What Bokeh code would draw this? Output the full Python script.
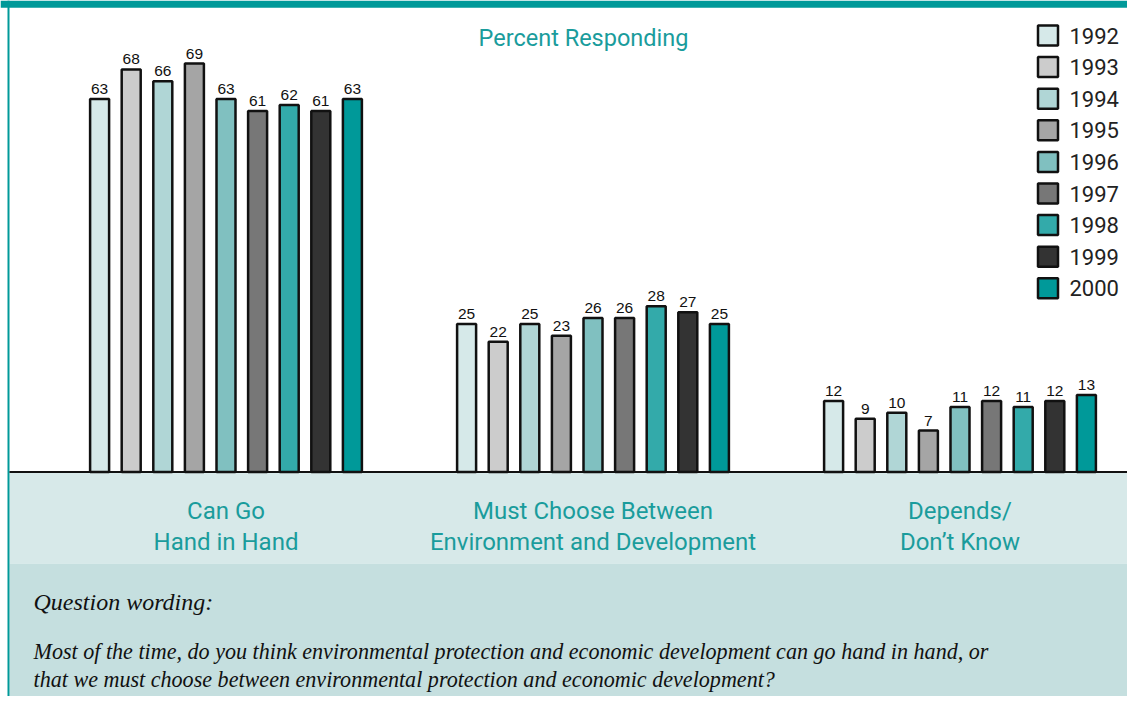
from bokeh.plotting import figure
from bokeh.models import Range1d
from bokeh.core.properties import value
from bokeh.embed import file_html
from bokeh.resources import INLINE

# ---------------- data ----------------
categories = ["Can Go\nHand in Hand",
              "Must Choose Between\nEnvironment and Development",
              "Depends/\nDon\u2019t Know"]
years = ["1992", "1993", "1994", "1995", "1996", "1997", "1998", "1999", "2000"]
y1992 = [63, 25, 12]
y1993 = [68, 22, 9]
y1994 = [66, 25, 10]
y1995 = [69, 23, 7]
y1996 = [63, 26, 11]
y1997 = [61, 26, 12]
y1998 = [62, 28, 11]
y1999 = [61, 27, 12]
y2000 = [63, 25, 13]
series = [y1992, y1993, y1994, y1995, y1996, y1997, y1998, y1999, y2000]
colors = ["#d6e9e9", "#cccccc", "#b0d6d6", "#a5a5a5", "#80c0c0",
          "#777777", "#33aaaa", "#333333", "#009999"]
title_text = "Percent Responding"
question_head = "Question wording:"
question_lines = [
    "Most of the time, do you think environmental protection and economic development can go hand in hand, or",
    "that we must choose between environmental protection and economic development?",
]

# ---------------- layout ----------------
W, H = 1127, 696
PXG = 367.0        # pixels per group
PXP = 5.92         # pixels per percent
BASE_Y = 471.5     # baseline, px from top
G0_X = 225.5       # first group centre, px from left
BAR_STEP = 31.6
BAR_W = 19.0
LABEL_GAP = 10.0   # px between bar top and label baseline
TEAL = "#009999"
TEXT_TEAL = "#1a9c9c"

def fx(px):
    return (px - G0_X) / PXG

def fy(py):
    return (BASE_Y - py) / PXP

p = figure(width=W, height=H, output_backend="svg", toolbar_location=None,
           x_range=Range1d(fx(0), fx(W)), y_range=Range1d(fy(H), fy(0)),
           min_border=0, outline_line_color=None, background_fill_color="white",
           border_fill_color="white")
p.axis.visible = False
p.grid.visible = False

# bands
p.quad(left=fx(9), right=fx(W), top=fy(BASE_Y), bottom=fy(563),
       fill_color="#d7e9e9", line_color=None)
p.quad(left=fx(9), right=fx(W), top=fy(563), bottom=fy(H),
       fill_color="#c5dfdf", line_color=None)
# frame lines
p.quad(left=fx(0), right=fx(W), top=fy(0), bottom=fy(7.3), fill_color=TEAL, line_color=None)
p.quad(left=fx(7), right=fx(9), top=fy(0), bottom=fy(H), fill_color=TEAL, line_color=None)

# bars
n = len(years)
for i, (yr, vals, col) in enumerate(zip(years, series, colors)):
    xs = [g + (i - (n - 1) / 2) * BAR_STEP / PXG for g in range(len(categories))]
    p.vbar(x=xs, top=vals, bottom=0, width=BAR_W / PXG, fill_color=col,
           line_color="#111111", line_width=2.5)
    p.text(x=xs, y=[v + LABEL_GAP / PXP for v in vals], text=[str(v) for v in vals],
           text_align="center", text_baseline="alphabetic",
           text_font=value("Liberation Sans"), text_font_size="15.5px", text_color="#111111")

# baseline
p.segment(x0=fx(9), y0=0, x1=fx(W), y1=0, line_color="#111111", line_width=2.2)

# legend
for i, (yr, col) in enumerate(zip(years, colors)):
    cy = 35 + 31.6 * i
    p.rect(x=fx(1047.5), y=fy(cy), width=20, height=20, width_units="screen",
           height_units="screen", fill_color=col, line_color="#111111", line_width=2.5)
    p.text(x=fx(1069), y=fy(cy), text=[yr], text_align="left", text_baseline="middle",
           text_font=value("Roboto"), text_font_size="22px", text_color="#222222")

# title
p.text(x=fx(583), y=fy(37), text=[title_text], text_align="center",
       text_baseline="alphabetic", text_font=value("Roboto"), text_font_size="23.5px",
       text_color=TEXT_TEAL)

# category labels
for g, cat in enumerate(categories):
    l1, l2 = cat.split("\n")
    for line, by in ((l1, 510), (l2, 541.5)):
        p.text(x=g, y=fy(by), text=[line], text_align="center", text_baseline="alphabetic",
               text_font=value("Roboto"), text_font_size="24px", text_color=TEXT_TEAL)

# question wording
for line, by, fs in ((question_head, 601, "24px"), (question_lines[0], 651, "22.1px"),
                     (question_lines[1], 679, "22.1px")):
    p.text(x=fx(33), y=fy(by), text=[line], text_align="left", text_baseline="alphabetic",
           text_font=value("Liberation Serif"), text_font_style="italic",
           text_font_size=fs, text_color="#111111")

open("out.html", "w").write(file_html(p, INLINE))
